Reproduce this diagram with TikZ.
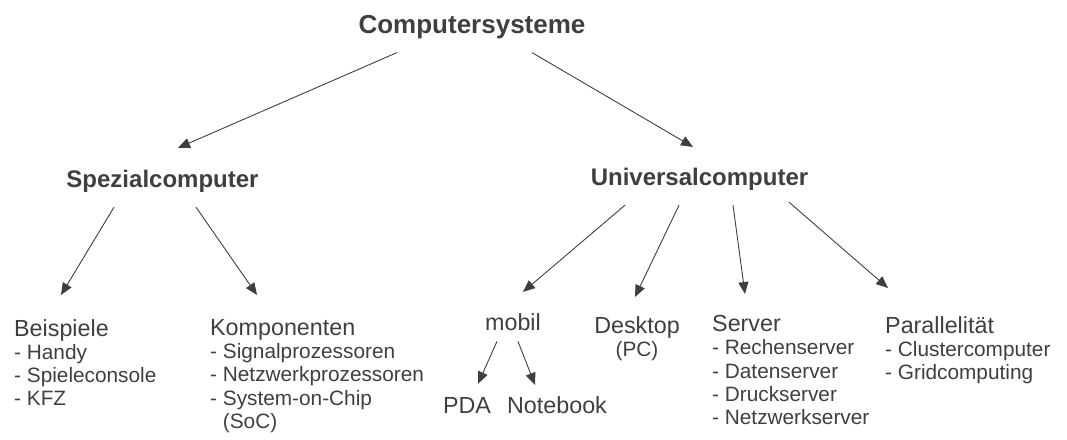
\documentclass[tikz,border=0pt]{standalone}
\usepackage{fontspec}
\setmainfont{Liberation Sans}
\usepackage{tikz}
\usetikzlibrary{positioning,arrows.meta}
\definecolor{ink}{HTML}{3F3F3F}
\newcommand{\hd}{\fontsize{23.3}{23.3}\selectfont}

\begin{document}
\begin{tikzpicture}[x=1pt, y=-1pt,
        every node/.style={inner sep=0pt, text=ink},
        head/.style={font=\fontsize{24}{26}\selectfont\bfseries, anchor=base},
        body/.style={font=\fontsize{20.8}{23.3}\selectfont, align=left, anchor=north west},
        word/.style={font=\hd, anchor=base},
        arr/.style={-{Triangle[length=12pt,width=10pt]}, draw=ink, line width=0.9pt}]
        \useasboundingbox (0,0) rectangle (1067,439);

        % Root
        \node[head, font=\fontsize{26}{28}\selectfont\bfseries] (sys) at (472,33) {Computersysteme};

        % Second level
        \node[head] (spez) at (162.5,187) {Spezialcomputer};
        \node[head] (univ) at (699.5,185) {Universalcomputer};

        % Special computers
        \node[body] (beisp) at (14,319) {{\hd Beispiele}\\- Handy\\- Spieleconsole\\- KFZ};
        \node[body] (komp) at (210,319) {{\hd Komponenten}\\- Signalprozessoren\\- Netzwerkprozessoren\\- System-on-Chip\\\hphantom{- }(SoC)};

        % Universal computers
        \node[word] (mobil) at (513,330) {mobil};
        \node[body, anchor=north, align=center] (desk) at (637,316) {{\hd Desktop}\\(PC)};
        \node[body] (serv) at (712,315) {{\hd Server}\\- Rechenserver\\- Datenserver\\- Druckserver\\- Netzwerkserver};
        \node[body] (para) at (885,316) {{\hd Parallelität}\\- Clustercomputer\\- Gridcomputing};

        % Mobile devices
        \node[word] (pda) at (467,413) {PDA};
        \node[word] (nb) at (557,413) {Notebook};

        % Arrows
        \draw[arr] ([xshift=-75pt,yshift=-14pt]sys.south) -- ([xshift=15.5pt,yshift=21.5pt]spez.north);
        \draw[arr] ([xshift=60pt,yshift=-14pt]sys.south) -- ([xshift=-6.5pt,yshift=20.5pt]univ.north);

        \draw[arr] ([xshift=-48.5pt,yshift=-15pt]spez.south) -- ([xshift=47pt,yshift=24pt]beisp.north west);
        \draw[arr] ([xshift=33.5pt,yshift=-15pt]spez.south) -- ([xshift=47pt,yshift=24pt]komp.north west);

        \draw[arr] ([xshift=-74.5pt,yshift=-15pt]univ.south) -- ([xshift=10pt,yshift=21pt]mobil.north);
        \draw[arr] ([xshift=-20.5pt,yshift=-15pt]univ.south) -- ([xshift=-2pt,yshift=19pt]desk.north);
        \draw[arr] ([xshift=33.5pt,yshift=-15pt]univ.south) -- ([xshift=33pt,yshift=21pt]serv.north west);
        \draw[arr] ([xshift=89.5pt,yshift=-12pt]univ.south) -- ([xshift=3pt,yshift=28pt]para.north west);

        \draw[arr] ([xshift=-16pt,yshift=-11pt]mobil.south) -- ([xshift=11pt,yshift=13pt]pda.north);
        \draw[arr] ([xshift=5pt,yshift=-11pt]mobil.south) -- ([xshift=-22pt,yshift=11pt]nb.north);
\end{tikzpicture}
\end{document}
